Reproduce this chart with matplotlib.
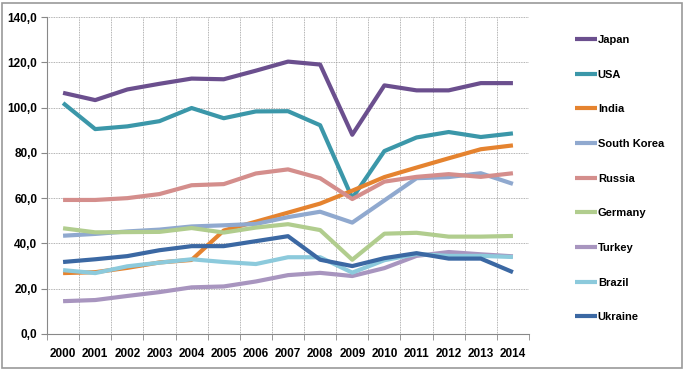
import matplotlib
matplotlib.use('Agg')
import matplotlib.pyplot as plt
import numpy as np

plt.rcParams['font.family'] = ['Liberation Sans', 'DejaVu Sans']

years = [str(y) for y in range(2000, 2015)]

japan = [106.5, 103.3, 108.0, 110.5, 112.8, 112.5, 116.3, 120.3, 119.0, 88.0, 109.8, 107.6, 107.6, 110.8, 110.8]
usa = [102.0, 90.5, 91.7, 94.0, 99.8, 95.3, 98.3, 98.4, 92.2, 60.0, 80.8, 86.8, 89.2, 87.0, 88.6]
india = [26.9, 27.3, 29.2, 31.6, 32.7, 45.7, 49.6, 53.6, 57.6, 63.3, 69.3, 73.5, 77.6, 81.6, 83.3]
south_korea = [43.4, 44.2, 45.3, 46.1, 47.5, 48.0, 48.6, 51.6, 54.0, 49.2, 59.0, 68.8, 69.3, 71.0, 66.3]
russia = [59.2, 59.2, 60.0, 61.8, 65.7, 66.2, 70.9, 72.7, 68.8, 59.6, 67.3, 69.4, 70.6, 69.4, 71.0]
germany = [46.7, 44.9, 45.0, 45.1, 46.8, 44.8, 47.0, 48.5, 45.9, 32.8, 44.3, 44.7, 43.0, 43.0, 43.3]
turkey = [14.5, 15.0, 16.8, 18.5, 20.6, 21.0, 23.2, 26.0, 27.0, 25.6, 29.1, 34.5, 36.2, 35.2, 34.3]
brazil = [28.2, 26.9, 29.9, 31.5, 33.0, 31.8, 30.9, 33.9, 33.9, 27.1, 32.6, 35.3, 34.5, 34.5, 34.0]
ukraine = [31.8, 33.0, 34.4, 37.0, 38.8, 38.8, 41.0, 43.2, 32.8, 30.0, 33.5, 35.7, 33.3, 33.3, 27.3]

series = [
    ('Japan', japan, '#6b4f8e'),
    ('USA', usa, '#3b97a9'),
    ('India', india, '#e5832f'),
    ('South Korea', south_korea, '#90a9cf'),
    ('Russia', russia, '#d48e8c'),
    ('Germany', germany, '#b1cd8e'),
    ('Turkey', turkey, '#a895bf'),
    ('Brazil', brazil, '#8ccadc'),
    ('Ukraine', ukraine, '#3b68a3'),
]

fig = plt.figure(figsize=(6.83, 3.69), dpi=100)
ax = fig.add_axes([47 / 683, 35 / 369, 482 / 683, 317 / 369])

x = np.arange(len(years))
for name, vals, col in series:
    ax.plot(x, vals, color=col, lw=3, label=name, solid_capstyle='butt')

ax.set_xlim(-0.5, len(years) - 0.5)
ax.set_ylim(0, 140)
ax.set_yticks(np.arange(0, 141, 20))
ax.set_yticklabels([f'{v:.1f}'.replace('.', ',') for v in range(0, 141, 20)])
ax.set_xticks(x)
ax.set_xticklabels(years)
ax.set_xticks(np.arange(-0.5, len(years), 1), minor=True)

ax.tick_params(axis='x', which='major', length=0, pad=10, labelsize=8.5)
ax.tick_params(axis='x', which='minor', length=4, color='#888888', direction='out')
ax.tick_params(axis='y', length=4, color='#888888', labelsize=8.5, pad=3)
for lab in ax.get_xticklabels() + ax.get_yticklabels():
    lab.set_fontweight('bold')

ax.grid(True, which='minor', axis='x', color='#999999', ls=(0, (1, 1)), lw=0.6)
ax.grid(True, which='major', axis='y', color='#999999', ls=(0, (1, 1)), lw=0.6)
ax.spines['top'].set_visible(False)
ax.spines['right'].set_visible(False)
ax.spines['left'].set_color('#888888')
ax.spines['bottom'].set_color('#888888')

leg = fig.legend(loc='upper left', bbox_to_anchor=(565 / 683, 1 - 25 / 369),
                 frameon=False, handlelength=2.0, handletextpad=0.05,
                 labelspacing=2.22, prop={'size': 8, 'weight': 'bold'})

# cadre extérieur
fig.patches.append(plt.Rectangle((1.5 / 683, 1.5 / 369), 680 / 683, 365 / 369,
                                 transform=fig.transFigure, fill=False,
                                 edgecolor='#999999', lw=1.2))

fig.savefig('out.png', dpi=100, facecolor='white')
